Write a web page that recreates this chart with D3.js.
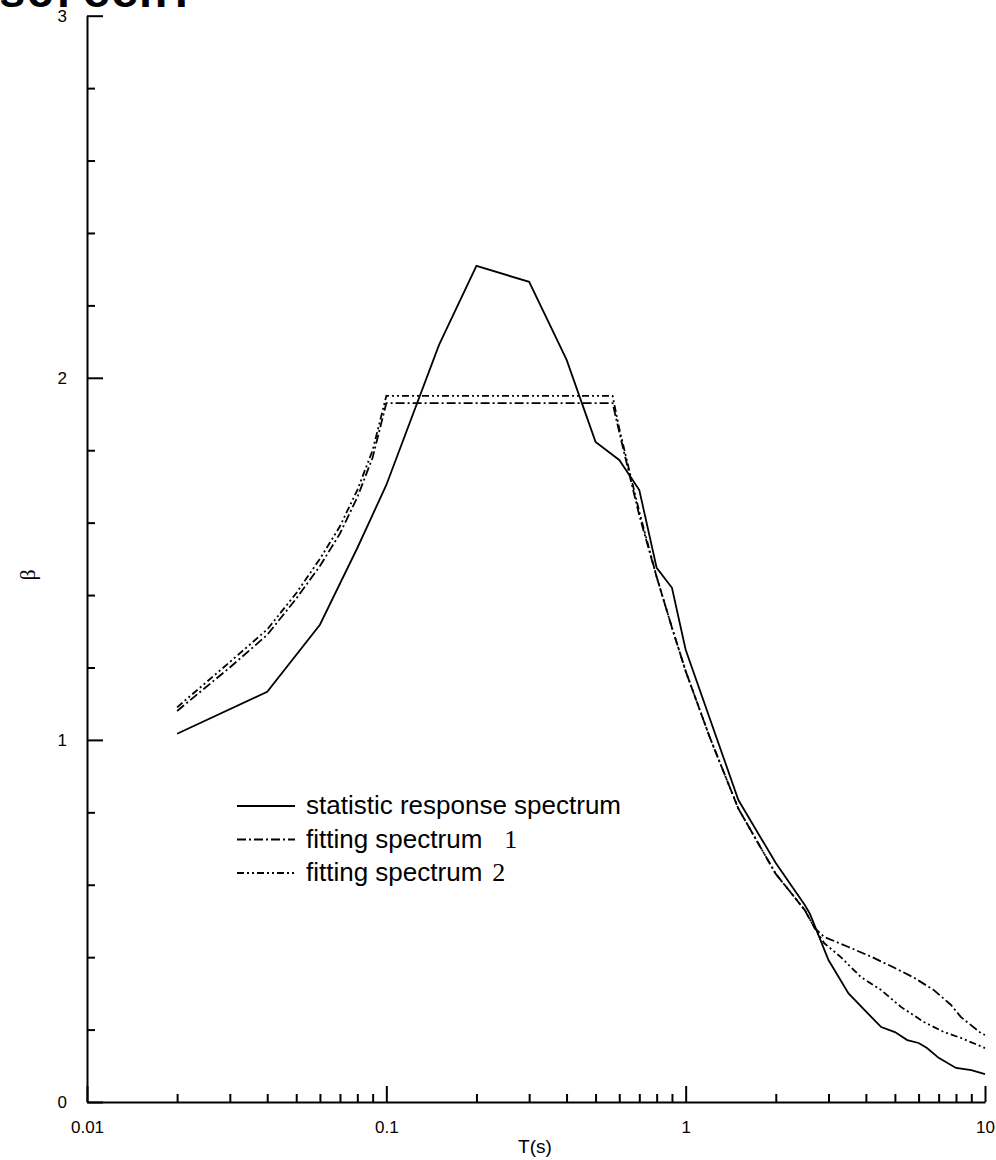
<!DOCTYPE html>
<html>
<head>
<meta charset="utf-8">
<script src="https://cdn.jsdelivr.net/npm/d3@7"></script>
<style>
  body { margin: 0; background: #fff; }
  svg { display: block; }
</style>
</head>
<body>
<svg id="chart" width="996" height="1160"></svg>
<script>
// periods (s) and amplification factor beta
const statT = [0.02, 0.04, 0.06, 0.08, 0.1, 0.15, 0.2, 0.3, 0.4, 0.5, 0.6, 0.7, 0.8, 0.9, 1.0, 1.5, 2.0, 2.5, 2.6, 3.0, 3.5, 4.0, 4.5, 5.0, 5.5, 6.0, 6.4, 7.0, 8.0, 9.0, 10];
const statBeta = [1.017, 1.133, 1.318, 1.53, 1.704, 2.091, 2.309, 2.265, 2.05, 1.823, 1.773, 1.69, 1.475, 1.42, 1.249, 0.834, 0.66, 0.544, 0.52, 0.392, 0.30, 0.25, 0.207, 0.193, 0.171, 0.163, 0.149, 0.122, 0.094, 0.088, 0.077];

const fit1T = [0.02, 0.03, 0.04, 0.05, 0.06, 0.07, 0.08, 0.09, 0.1, 0.57, 0.6, 0.65, 0.7, 0.8, 0.9, 1.0, 1.2, 1.5, 2.0, 2.5, 2.7, 2.9, 3.5, 4.2, 5.0, 5.8, 6.75, 7.7, 8.3, 9.7, 10];
const fit1Beta = [1.08, 1.2, 1.29, 1.39, 1.48, 1.57, 1.67, 1.78, 1.93, 1.93, 1.85, 1.73, 1.62, 1.45, 1.31, 1.19, 1.01, 0.81, 0.63, 0.53, 0.48, 0.456, 0.428, 0.40, 0.37, 0.343, 0.309, 0.268, 0.235, 0.19, 0.185];

const fit2T = [0.02, 0.03, 0.04, 0.05, 0.06, 0.07, 0.08, 0.09, 0.1, 0.57, 0.6, 0.65, 0.7, 0.8, 0.9, 1.0, 1.2, 1.5, 2.0, 2.5, 2.7, 2.9, 3.3, 3.85, 4.5, 5.25, 6.25, 7.3, 8.3, 10];
const fit2Beta = [1.09, 1.215, 1.305, 1.405, 1.5, 1.59, 1.69, 1.8, 1.95, 1.95, 1.86, 1.74, 1.63, 1.45, 1.31, 1.19, 1.01, 0.81, 0.63, 0.53, 0.48, 0.439, 0.40, 0.345, 0.309, 0.262, 0.221, 0.193, 0.177, 0.149];

const xMajor = [0.01, 0.1, 1, 10];
const xMinor = [0.02, 0.03, 0.04, 0.05, 0.06, 0.07, 0.08, 0.09,
                0.2, 0.3, 0.4, 0.5, 0.6, 0.7, 0.8, 0.9,
                2, 3, 4, 5, 6, 7, 8, 9];
const yMajor = [0, 1, 2, 3];
const yMinor = [0.2, 0.4, 0.6, 0.8, 1.2, 1.4, 1.6, 1.8, 2.2, 2.4, 2.6, 2.8];

const legendNames = ["statistic response spectrum", "fitting spectrum", "fitting spectrum"];
const legendNums = ["", "1", "2"];

const svg = d3.select("#chart");
const font = "Arial, 'Liberation Sans', sans-serif";

const x = d3.scaleLog().domain([0.01, 10]).range([87, 985]);
const y = d3.scaleLinear().domain([0, 3]).range([1102, 15.7]);

// cropped heading fragment at the very top
svg.append("text")
  .attr("x", -2).attr("y", 7)
  .style("font-family", "'Liberation Mono', 'Courier New', monospace")
  .style("font-weight", "bold")
  .style("font-size", "47px")
  .text("screen.");

const styleAxis = (g) => {
  g.selectAll("path.domain").attr("stroke", "#000").attr("stroke-width", 2);
  g.selectAll(".tick line").attr("stroke", "#000").attr("stroke-width", 2);
  g.selectAll(".tick text")
    .style("font-family", font)
    .style("font-size", "17px")
    .attr("fill", "#000");
};

// x axis
const gx = svg.append("g").attr("transform", `translate(0,${y(0)})`);
gx.call(d3.axisBottom(x).tickValues(xMajor).tickSizeInner(-16).tickSizeOuter(0)
  .tickPadding(19).tickFormat(d => d >= 1 ? d3.format("d")(d) : String(d)));
styleAxis(gx);
svg.append("g").attr("transform", `translate(0,${y(0)})`)
  .call(d3.axisBottom(x).tickValues(xMinor).tickSizeInner(-8).tickSizeOuter(0).tickFormat(""))
  .call(g => { g.select("path.domain").remove(); styleAxis(g); });

// y axis
const gy = svg.append("g").attr("transform", `translate(${x(0.01)},0)`);
gy.call(d3.axisLeft(y).tickValues(yMajor).tickSizeInner(-16).tickSizeOuter(0)
  .tickPadding(20).tickFormat(d3.format("d")));
styleAxis(gy);
svg.append("g").attr("transform", `translate(${x(0.01)},0)`)
  .call(d3.axisLeft(y).tickValues(yMinor).tickSizeInner(-8).tickSizeOuter(0).tickFormat(""))
  .call(g => { g.select("path.domain").remove(); styleAxis(g); });

// axis titles
svg.append("text")
  .attr("x", 535).attr("y", 1153)
  .attr("text-anchor", "middle")
  .style("font-family", font).style("font-size", "19px")
  .text("T(s)");
svg.append("text")
  .attr("transform", "translate(35,575) rotate(-90)")
  .attr("text-anchor", "middle")
  .style("font-family", "'Liberation Serif', 'Times New Roman', serif").style("font-size", "22px")
  .text("β");

// series
const series = [
  { T: statT, b: statBeta, dash: null },
  { T: fit1T, b: fit1Beta, dash: "9,3,2,3" },
  { T: fit2T, b: fit2Beta, dash: "7,3,2,3,2,3" }
];

const line = d3.line().x(d => x(d[0])).y(d => y(d[1]));

series.forEach(s => {
  svg.append("path")
    .datum(d3.zip(s.T, s.b))
    .attr("d", line)
    .attr("fill", "none")
    .attr("stroke", "#000")
    .attr("stroke-width", 1.8)
    .attr("stroke-dasharray", s.dash);
});

// legend
const legend = svg.append("g");
series.forEach((s, i) => {
  const ly = 806 + i * 33.5;
  legend.append("line")
    .attr("x1", 237).attr("x2", 295)
    .attr("y1", ly).attr("y2", ly)
    .attr("stroke", "#000").attr("stroke-width", 1.8)
    .attr("stroke-dasharray", s.dash);
  const t = legend.append("text")
    .attr("x", 306).attr("y", ly + 8)
    .style("font-family", font).style("font-size", "26px")
    .text(legendNames[i]);
  if (legendNums[i]) {
    t.append("tspan")
      .attr("dx", i === 1 ? 22 : 10)
      .style("font-family", "'Liberation Serif', 'Times New Roman', serif")
      .text(legendNums[i]);
  }
});
</script>
</body>
</html>
